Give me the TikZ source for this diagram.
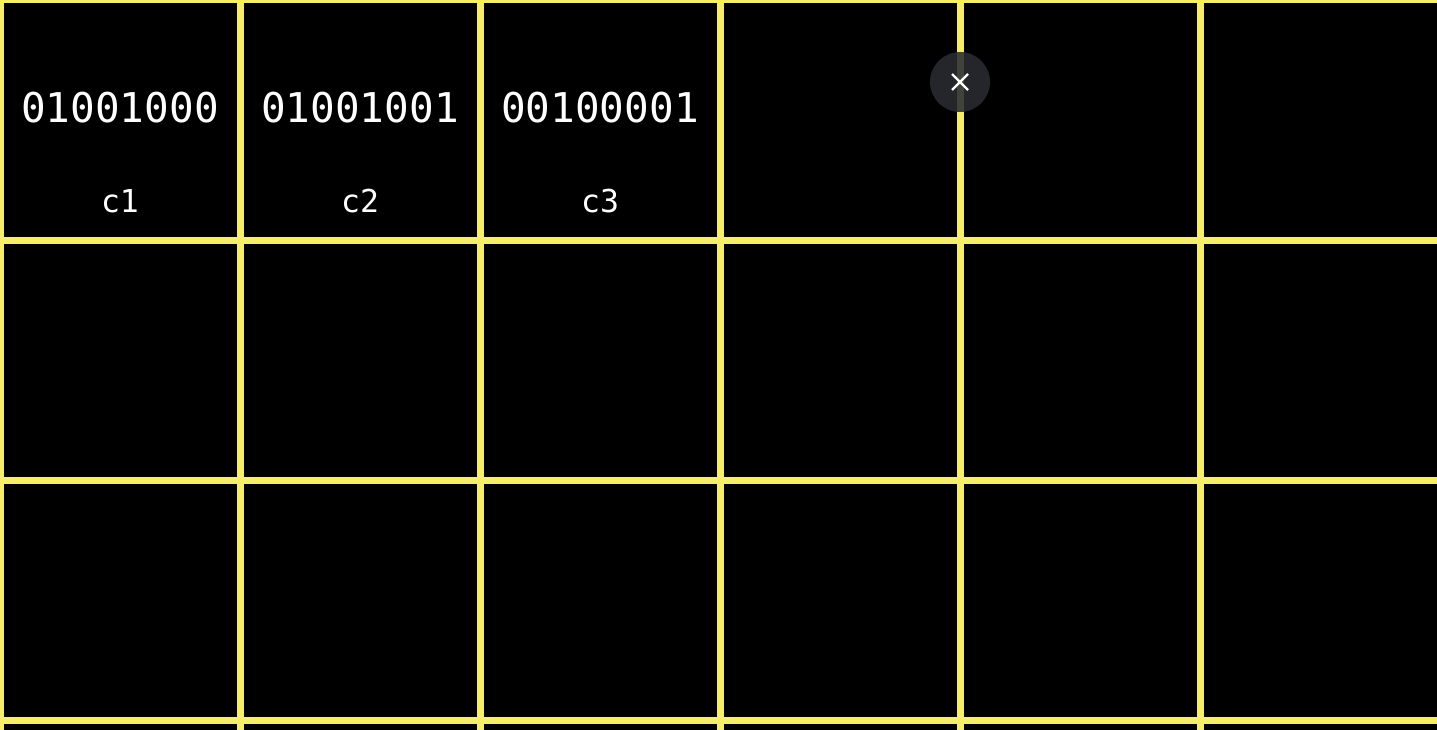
\documentclass[tikz,border=0pt]{standalone}
\usepackage{fontspec}
\newfontfamily\gridmono{DejaVu Sans Mono}
\definecolor{gridyellow}{RGB}{246,238,102}
\definecolor{closegray}{RGB}{42,44,50}
\tikzset{
  gridline/.style={draw=gridyellow, line width=7pt},
  bits/.style={text=white, font=\gridmono\fontsize{41}{41}\selectfont, inner sep=0pt, anchor=base},
  lbl/.style={text=white, font=\gridmono\fontsize{31.5}{31.5}\selectfont, inner sep=0pt, anchor=base},
}
\begin{document}
\begin{tikzpicture}[x=1pt,y=-1pt]
\fill[black] (0,0) rectangle (1437,730);
\useasboundingbox (0,0) rectangle (1437,730);
\foreach \x in {0,240,480,720,960,1200,1440} {
  \draw[gridline] (\x,-10) -- (\x,740);
}
\foreach \y in {0,240,480,720} {
  \draw[gridline] (-10,\y) -- (1447,\y);
}
\node[bits] (b1) at (120,123) {01001000};
\node[bits] (b2) at (360,123) {01001001};
\node[bits] (b3) at (600,123) {00100001};
\node[lbl] (c1) at (120,213) {c1};
\node[lbl] (c2) at (360,213) {c2};
\node[lbl] (c3) at (600,213) {c3};
\node[circle, minimum size=60pt, inner sep=0pt, fill=closegray, fill opacity=0.88] (close) at (960,82) {};
\draw[white, line width=2.2pt] ([shift={(-8,-8)}]close.center) -- ([shift={(8,8)}]close.center);
\draw[white, line width=2.2pt] ([shift={(-8,8)}]close.center) -- ([shift={(8,-8)}]close.center);
\end{tikzpicture}
\end{document}
